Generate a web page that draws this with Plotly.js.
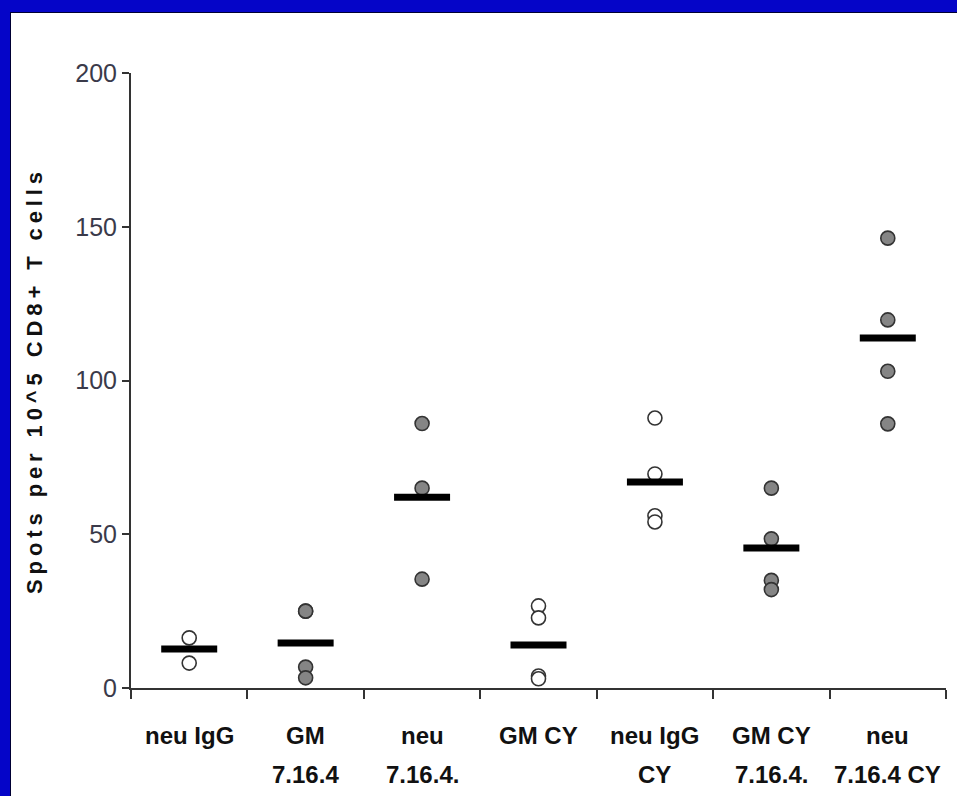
<!DOCTYPE html>
<html>
<head>
<meta charset="utf-8">
<script src="https://cdn.plot.ly/plotly-3.0.1.min.js"></script>
<style>
  html, body { margin: 0; padding: 0; background: #0505c8; width: 957px; height: 796px; overflow: hidden; }
  #chart { position: absolute; left: 10px; top: 12px; width: 947px; height: 784px; background: #fff; border-top: 1px solid #000033; border-left: 1px solid #000033; box-sizing: border-box; }
</style>
</head>
<body>
<div id="chart"></div>
<script>
// Categories (x axis), split into two label lines as in the reference
const categories = ['neu IgG', 'GM 7.16.4', 'neu 7.16.4.', 'GM CY', 'neu IgG CY', 'GM CY 7.16.4.', 'neu 7.16.4 CY'];
const labelLine1 = ['neu IgG', 'GM', 'neu', 'GM CY', 'neu IgG', 'GM CY', 'neu'];
const labelLine2 = ['', '7.16.4', '7.16.4.', '', 'CY', '7.16.4.', '7.16.4 CY'];

// Whether the group is drawn with open (true) or filled grey (false) circles
const openMarkers = [true, false, false, true, true, false, false];

// Individual values (spots per 10^5 CD8+ T cells) per group
const groupValues = [
  [16.3, 8.1],
  [25, 25, 6.8, 3.3],
  [86, 65, 35.4],
  [26.7, 22.8, 3.9, 3],
  [87.8, 69.6, 56, 54],
  [65, 48.5, 35, 32],
  [146.3, 119.7, 103, 85.9]
];

// Group means (black bars)
const groupMeans = [12.7, 14.6, 62, 14, 67, 45.5, 113.8];

const yTicks = [0, 50, 100, 150, 200];

const filledX = [], filledY = [], openX = [], openY = [];
groupValues.forEach((vals, i) => {
  vals.forEach(v => {
    if (openMarkers[i]) { openX.push(categories[i]); openY.push(v); }
    else { filledX.push(categories[i]); filledY.push(v); }
  });
});

const traces = [
  {
    type: 'scatter', mode: 'markers', x: openX, y: openY, name: 'open',
    marker: { symbol: 'circle', size: 14, color: '#ffffff', line: { color: '#333333', width: 1.6 } },
    hoverinfo: 'x+y'
  },
  {
    type: 'scatter', mode: 'markers', x: filledX, y: filledY, name: 'filled',
    marker: { symbol: 'circle', size: 14, color: '#858585', line: { color: '#333333', width: 1.6 } },
    hoverinfo: 'x+y'
  },
  {
    type: 'scatter', mode: 'markers', x: categories, y: groupMeans, name: 'mean',
    marker: { symbol: 'line-ew', size: 40, color: '#000000', line: { color: '#000000', width: 7 } },
    hoverinfo: 'x+y'
  }
];

const labelFont = { family: '"Liberation Sans", Arial, sans-serif', size: 24, color: '#111111', weight: 'bold' };
const annotations = [];
categories.forEach((c, i) => {
  annotations.push({ xref: 'x', yref: 'paper', x: c, y: -0.078, text: '<b>' + labelLine1[i] + '</b>', showarrow: false, xanchor: 'center', yanchor: 'middle', font: labelFont });
  if (labelLine2[i]) annotations.push({ xref: 'x', yref: 'paper', x: c, y: -0.14, text: '<b>' + labelLine2[i] + '</b>', showarrow: false, xanchor: 'center', yanchor: 'middle', font: labelFont });
});

const layout = {
  width: 947, height: 784,
  margin: { l: 120, r: 12, t: 60, b: 109 },
  paper_bgcolor: '#ffffff', plot_bgcolor: '#ffffff',
  showlegend: false,
  xaxis: {
    type: 'category', categoryorder: 'array', categoryarray: categories,
    range: [-0.5, 6.5],
    showticklabels: false, tickson: 'boundaries',
    ticks: 'outside', ticklen: 9, tickwidth: 2, tickcolor: '#333333',
    showline: true, linecolor: '#333333', linewidth: 2,
    showgrid: false, zeroline: false
  },
  yaxis: {
    range: [0, 200], tickvals: yTicks, ticktext: yTicks.map(String),
    ticks: 'outside', ticklen: 7, tickwidth: 2, tickcolor: '#333333',
    showline: true, linecolor: '#333333', linewidth: 2,
    showgrid: false, zeroline: false,
    tickfont: { family: '"Liberation Sans", Arial, sans-serif', size: 25, color: '#3a3a4a' },
    title: {
      text: '<span style="letter-spacing:4.9px"><b>Spots per 10^5 CD8+ T cells</b></span>',
      font: { family: '"Liberation Sans", Arial, sans-serif', size: 22, color: '#111111' },
      standoff: 27
    }
  },
  annotations: annotations
};

Plotly.newPlot('chart', traces, layout, { displayModeBar: false, staticPlot: true });
</script>
</body>
</html>
